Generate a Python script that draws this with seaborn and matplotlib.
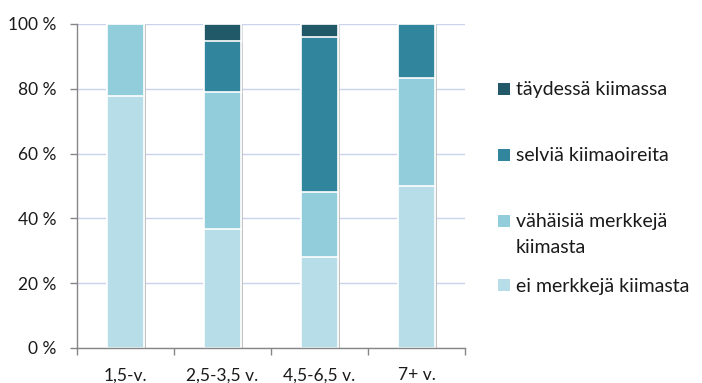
import matplotlib
matplotlib.use("Agg")
import matplotlib.pyplot as plt
from matplotlib.patches import Rectangle
from matplotlib.ticker import FixedLocator
import matplotlib.patheffects as pe
import numpy as np
import pandas as pd
import seaborn as sns

# Age groups and share (%) of animals in each heat-sign class
categories = ["1,5-v.", "2,5-3,5 v.", "4,5-6,5 v.", "7+ v."]
ei_merkkeja = [77.8, 36.8, 28.0, 50.0]
vahaisia = [22.2, 42.1, 20.0, 33.3]
selvia = [0.0, 15.8, 48.0, 16.7]
taydessa = [0.0, 5.3, 4.0, 0.0]

series_names = ["ei merkkejä kiimasta", "vähäisiä merkkejä\nkiimasta",
                "selviä kiimaoireita", "täydessä kiimassa"]
series_values = [ei_merkkeja, vahaisia, selvia, taydessa]
colors = ["#B7DEE8", "#92CDDC", "#31859C", "#215968"]
y_ticks = [0, 20, 40, 60, 80, 100]

sns.set_theme(style="white")
plt.rcParams["font.family"] = ["Lato", "DejaVu Sans"]

W, H = 702, 383
fig = plt.figure(figsize=(W / 100, H / 100), dpi=100)
ax = fig.add_axes([77 / W, 1 - 348 / H, 388 / W, 324 / H])

# stacked bars: draw cumulative totals from the top layer down
cum = np.cumsum(np.array(series_values), axis=0)
shadow = [pe.SimplePatchShadow(offset=(1.5, -1), shadow_rgbFace="#bfbfbf", alpha=0.5), pe.Normal()]
for i in range(len(series_values) - 1, -1, -1):
    df = pd.DataFrame({"ikä": categories, "osuus": cum[i]})
    sns.barplot(data=df, x="ikä", y="osuus", color=colors[i], saturation=1,
                width=0.38, edgecolor="white", linewidth=1.2, ax=ax)
for p in ax.patches:
    p.set_path_effects(shadow)

ax.set_xlim(-0.5, len(categories) - 0.5)
ax.set_ylim(0, 100)
ax.set_xlabel("")
ax.set_ylabel("")

tick_fs = 12.5
ax.set_yticks(y_ticks)
ax.set_yticklabels([f"{v} %" for v in y_ticks], fontsize=tick_fs, color="#1a1a1a")
ax.tick_params(axis="y", which="major", direction="out", length=5, width=1,
               color="#868686", pad=10, left=True)
ax.yaxis.grid(True, color="#C9D3EC", linewidth=1)
ax.set_axisbelow(True)

ax.set_xticks(range(len(categories)))
ax.set_xticklabels(categories, fontsize=tick_fs, color="#1a1a1a")
ax.tick_params(axis="x", which="major", length=0, pad=14)
ax.xaxis.set_minor_locator(FixedLocator(np.arange(-0.5, len(categories), 1.0)))
ax.tick_params(axis="x", which="minor", direction="out", length=5, width=1,
               color="#868686", bottom=True)

for side in ["top", "right"]:
    ax.spines[side].set_visible(False)
for side in ["left", "bottom"]:
    ax.spines[side].set_color("#868686")
    ax.spines[side].set_linewidth(1)

# legend on the right, darkest class first (marker centre, first baseline)
legend_marker_y = [89, 155, 221, 285]
legend_baseline = [95, 161, 227, 292]
line_step = 26
for idx, (name, col) in enumerate(zip(series_names[::-1], colors[::-1])):
    yc = legend_marker_y[idx]
    fig.patches.append(Rectangle((498 / W, 1 - (yc + 6) / H), 12 / W, 12 / H,
                                 transform=fig.transFigure, facecolor=col,
                                 edgecolor="none", figure=fig))
    for k, line in enumerate(name.split("\n")):
        fig.text(516 / W, 1 - (legend_baseline[idx] + k * line_step) / H, line,
                 fontsize=14, color="#1a1a1a", va="baseline", ha="left")

fig.savefig("out.png", dpi=100)
